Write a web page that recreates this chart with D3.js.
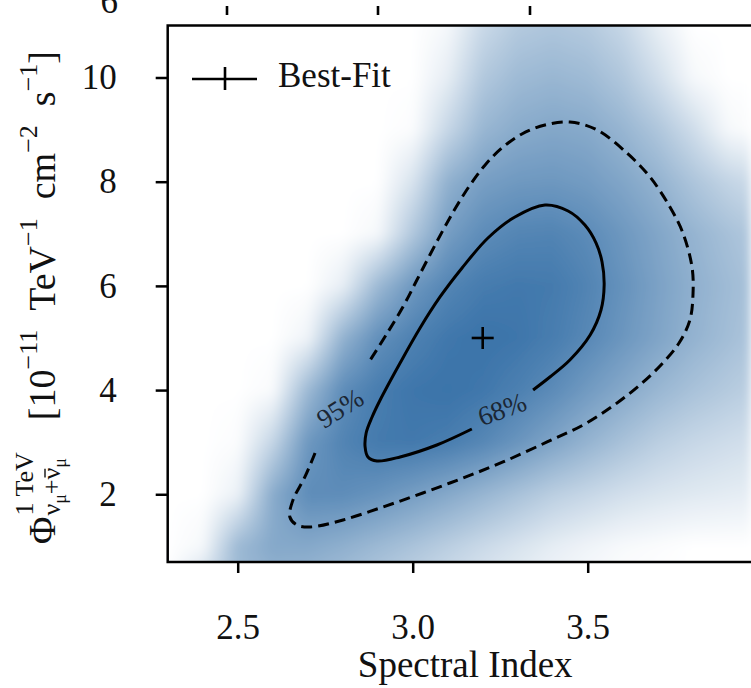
<!DOCTYPE html>
<html>
<head>
<meta charset="utf-8">
<script src="https://cdn.jsdelivr.net/npm/d3@7"></script>
<style>
  body { margin: 0; background: #fff; }
  svg { display: block; }
  text { font-family: "Liberation Serif", "Times New Roman", serif; fill: #111; }
</style>
</head>
<body>
<svg id="chart" width="751" height="688"></svg>
<script>
// ---- data ---------------------------------------------------------------
// Grid of the likelihood scan: spectral index (columns) x flux normalisation (rows)
const spectralIndex = [2.3, 2.4, 2.5, 2.6, 2.7, 2.8, 2.9, 3.0, 3.1, 3.2, 3.3, 3.4, 3.5, 3.6, 3.7, 3.8, 3.9, 4.0];
const fluxNorm = [11, 10, 9, 8, 7, 6, 5, 4, 3, 2, 1, 0];
// relative likelihood shading (1 = best fit, 0 = excluded), one row per fluxNorm value
const likelihoodShade = [
  [0, 0, 0, 0, 0, 0, 0, 0, 0.05, 0.27, 0.38, 0.41, 0.38, 0.29, 0.12, 0, 0, 0],
  [0, 0, 0, 0, 0, 0, 0, 0, 0.13, 0.39, 0.49, 0.52, 0.49, 0.40, 0.24, 0.05, 0, 0],
  [0, 0, 0, 0, 0, 0, 0, 0.02, 0.29, 0.52, 0.60, 0.63, 0.61, 0.53, 0.41, 0.25, 0.05, 0],
  [0, 0, 0, 0, 0, 0, 0, 0.20, 0.56, 0.69, 0.73, 0.74, 0.71, 0.64, 0.55, 0.42, 0.31, 0.23],
  [0, 0, 0, 0, 0, 0, 0.05, 0.40, 0.70, 0.82, 0.87, 0.88, 0.83, 0.74, 0.64, 0.54, 0.45, 0.37],
  [0, 0, 0, 0, 0, 0.12, 0.50, 0.74, 0.87, 0.94, 0.96, 0.95, 0.88, 0.78, 0.67, 0.57, 0.49, 0.41],
  [0, 0, 0, 0, 0.08, 0.55, 0.80, 0.90, 0.97, 1.00, 0.98, 0.93, 0.85, 0.75, 0.65, 0.55, 0.47, 0.39],
  [0, 0, 0, 0.03, 0.50, 0.82, 0.93, 0.98, 1.00, 0.97, 0.91, 0.83, 0.72, 0.62, 0.52, 0.44, 0.38, 0.32],
  [0, 0, 0.02, 0.30, 0.74, 0.88, 0.95, 0.96, 0.93, 0.86, 0.76, 0.65, 0.54, 0.44, 0.35, 0.29, 0.25, 0.21],
  [0, 0, 0.10, 0.60, 0.82, 0.82, 0.77, 0.70, 0.62, 0.53, 0.44, 0.35, 0.29, 0.23, 0.19, 0.16, 0.14, 0.12],
  [0, 0.05, 0.50, 0.62, 0.62, 0.57, 0.50, 0.43, 0.35, 0.27, 0.20, 0.13, 0.08, 0.04, 0.02, 0, 0, 0],
  [0, 0.35, 0.50, 0.50, 0.46, 0.40, 0.33, 0.26, 0.20, 0.14, 0.09, 0.05, 0.02, 0, 0, 0, 0, 0]
];

// confidence contours [spectral index, flux], open where the level label sits
const contour68 = [
  [3.169, 3.253], [3.069, 2.946], [2.964, 2.716], [2.898, 2.639], [2.872, 2.716], [2.864, 2.908],
  [2.867, 3.177], [2.884, 3.484], [2.907, 3.810], [2.964, 4.520], [3.021, 5.192], [3.078, 5.787],
  [3.141, 6.344], [3.215, 6.919], [3.292, 7.322], [3.378, 7.553], [3.444, 7.438], [3.492, 7.169],
  [3.524, 6.823], [3.541, 6.459], [3.547, 6.017], [3.538, 5.537], [3.507, 5.058], [3.449, 4.578],
  [3.392, 4.251], [3.344, 4.002]
];
const contour95 = [
  [2.721, 2.793], [2.692, 2.332], [2.658, 1.891], [2.649, 1.564], [2.669, 1.411], [2.707, 1.372],
  [2.801, 1.507], [2.915, 1.756], [3.029, 2.025], [3.144, 2.313], [3.258, 2.620], [3.384, 3.004],
  [3.487, 3.330], [3.572, 3.695], [3.649, 4.098], [3.712, 4.501], [3.761, 4.904], [3.792, 5.346],
  [3.801, 5.864], [3.798, 6.363], [3.772, 7.015], [3.735, 7.514], [3.678, 8.090], [3.615, 8.532],
  [3.527, 8.992], [3.449, 9.146], [3.378, 9.088], [3.312, 8.916], [3.255, 8.647], [3.207, 8.321],
  [3.164, 7.937], [3.124, 7.514], [3.087, 7.073], [3.049, 6.593], [3.012, 6.113], [2.975, 5.633],
  [2.924, 5.058], [2.875, 4.539]
];
const contourLabels = [
  { text: "68%", at: [3.255, 3.637], angle: -20 },
  { text: "95%", at: [2.792, 3.656], angle: -32 }
];
const bestFit = [3.2, 5.0];

const xTicks = [2.5, 3.0, 3.5];
const yTicks = [2, 4, 6, 8, 10];
const xTickLabels = ["2.5", "3.0", "3.5"];
const yTickLabels = ["2", "4", "6", "8", "10"];

// ---- layout -------------------------------------------------------------
const W = 751, H = 688;
const svg = d3.select("#chart");
const x = d3.scaleLinear().domain([2.3, 4.0]).range([167.7, 762.7]);
const y = d3.scaleLinear().domain([0.7, 11]).range([562, 25.4]);
const plotTop = y.range()[1], plotBottom = y.range()[0];
const plotLeft = x.range()[0], plotRight = x.range()[1];

const defs = svg.append("defs");
defs.append("clipPath").attr("id", "plotClip")
  .append("rect")
  .attr("x", plotLeft).attr("y", plotTop)
  .attr("width", plotRight - plotLeft).attr("height", plotBottom - plotTop);
defs.append("filter").attr("id", "soften")
  .attr("x", 0).attr("y", 0).attr("width", 1).attr("height", 1)
  .append("feGaussianBlur").attr("stdDeviation", 5);

// ---- likelihood shading (bilinear through the grid, lightly softened) ------
(function drawShading() {
  const order = d3.range(fluxNorm.length).sort((a, b) => fluxNorm[a] - fluxNorm[b]);
  const fSorted = order.map(i => fluxNorm[i]);
  const colScales = spectralIndex.map((_, j) =>
    d3.scaleLinear().domain(fSorted).range(order.map(i => likelihoodShade[i][j])).clamp(true));
  const color = d3.scaleLinear().domain([0, 1]).range(["#ffffff", "#3a73a9"]).clamp(true);
  const lut = d3.range(256).map(k => d3.rgb(color(k / 255)));

  const canvas = document.createElement("canvas");
  canvas.width = W; canvas.height = H;
  const ctx = canvas.getContext("2d");
  const img = ctx.createImageData(W, H);
  const xs = d3.range(W).map(px => x.invert(px + 0.5));
  for (let py = 0; py < H; py++) {
    const fv = y.invert(py + 0.5);
    const rowScale = d3.scaleLinear().domain(spectralIndex)
      .range(colScales.map(s => s(fv))).clamp(true);
    for (let px = 0; px < W; px++) {
      const s = Math.max(0, Math.min(1, rowScale(xs[px])));
      const c = lut[Math.round(s * 255)];
      const o = (py * W + px) * 4;
      img.data[o] = c.r; img.data[o + 1] = c.g; img.data[o + 2] = c.b; img.data[o + 3] = 255;
    }
  }
  ctx.putImageData(img, 0, 0);
  svg.append("g").attr("clip-path", "url(#plotClip)")
    .append("image")
    .attr("href", canvas.toDataURL())
    .attr("x", 0).attr("y", 0).attr("width", W).attr("height", H)
    .attr("filter", "url(#soften)");
})();

// ---- contours -------------------------------------------------------------
const line = d3.line()
  .x(d => x(d[0])).y(d => y(d[1]))
  .curve(d3.curveCatmullRom.alpha(0.5));
const contourLayer = svg.append("g").attr("clip-path", "url(#plotClip)");
contourLayer.append("path").datum(contour95)
  .attr("d", line).attr("fill", "none")
  .attr("stroke", "#000").attr("stroke-width", 3)
  .attr("stroke-dasharray", "11,6");
contourLayer.append("path").datum(contour68)
  .attr("d", line).attr("fill", "none")
  .attr("stroke", "#000").attr("stroke-width", 3);

contourLayer.selectAll("text.clabel").data(contourLabels).join("text")
  .attr("class", "clabel")
  .attr("transform", d => `translate(${x(d.at[0])},${y(d.at[1])}) rotate(${d.angle})`)
  .attr("text-anchor", "middle").attr("dy", "0.35em")
  .style("font-size", "27px").style("fill", "#1b2633")
  .text(d => d.text);

// best-fit marker
const bf = [x(bestFit[0]), y(bestFit[1])];
const cross = svg.append("g").attr("stroke", "#000").attr("stroke-width", 2.6);
cross.append("line").attr("x1", bf[0] - 11).attr("x2", bf[0] + 11).attr("y1", bf[1]).attr("y2", bf[1]);
cross.append("line").attr("x1", bf[0]).attr("x2", bf[0]).attr("y1", bf[1] - 11).attr("y2", bf[1] + 11);

// ---- axes -----------------------------------------------------------------
const xAxis = d3.axisBottom(x).tickValues(xTicks)
  .tickFormat((d, i) => xTickLabels[i]).tickSize(11).tickSizeOuter(0).tickPadding(41);
const yAxis = d3.axisLeft(y).tickValues(yTicks)
  .tickFormat((d, i) => yTickLabels[i]).tickSize(12).tickSizeOuter(0).tickPadding(39);

const gx = svg.append("g").attr("transform", `translate(0,${plotBottom})`).call(xAxis);
const gy = svg.append("g").attr("transform", `translate(${plotLeft},0)`).call(yAxis);
[gx, gy].forEach(g => {
  g.select(".domain").remove();
  g.selectAll(".tick line").attr("stroke", "#000").attr("stroke-width", 2.5);
  g.selectAll(".tick text").attr("fill", "#111")
    .style("font-family", '"Liberation Serif", "Times New Roman", serif')
    .style("font-size", "35px");
});

// frame (left, top, bottom spines)
svg.append("path")
  .attr("d", `M${W + 5},${plotTop}H${plotLeft}V${plotBottom}H${W + 5}`)
  .attr("stroke", "#000").attr("stroke-width", 2.5).attr("fill", "none");

// ticks and a tick label of the neighbouring panel above, cut by the page edge
const upper = svg.append("g").attr("stroke", "#000").attr("stroke-width", 2.6);
[227, 378, 530].forEach(px => upper.append("line").attr("x1", px).attr("x2", px).attr("y1", 6).attr("y2", 15));
svg.append("text").attr("x", 118).attr("y", 13).attr("text-anchor", "end")
  .style("font-size", "35px").text("6");

// x title
svg.append("text").attr("x", (plotLeft + plotRight) / 2).attr("y", 677)
  .attr("text-anchor", "middle").style("font-size", "37px").text("Spectral Index");

// y title: runs laid out along the rotated baseline, then centred on the axis
(function yTitle() {
  const outer = svg.append("g").attr("transform", "rotate(-90)");
  const g = outer.append("g");
  const MAIN = 38, SUP = 26, SUB = 26, SUBSUB = 18;
  const BASE = 55, SUPB = 37, PHISUPB = 33, SUBB = 60, SUBSUBB = 66;
  function put(t, size, base, at) {
    const el = g.append("text").attr("x", at).attr("y", base).style("font-size", size + "px").text(t);
    return el.node().getComputedTextLength();
  }
  function seq(list, start) {
    let c = start;
    list.forEach(r => {
      const w = put(r[0], r[1], r[2], c);
      if (r[3]) {
        g.append("line").attr("x1", c + 2).attr("x2", c + w - 1)
          .attr("y1", r[2] - r[1] * 0.5 - 2).attr("y2", r[2] - r[1] * 0.5 - 2)
          .attr("stroke", "#111").attr("stroke-width", 1.4);
      }
      c += w;
    });
    return c;
  }
  let c = seq([["Φ", MAIN, BASE]], 0);
  const supEnd = seq([["1 TeV", SUP, PHISUPB]], c + 1);
  const subEnd = seq([["ν", SUB, SUBB], ["μ", SUBSUB, SUBSUBB], ["+", SUB, SUBB],
                      ["ν", SUB, SUBB, true], ["μ", SUBSUB, SUBSUBB]], c + 1);
  c = Math.max(supEnd, subEnd) + 32;
  c = seq([["[10", MAIN, BASE], ["\u221211", SUP, SUPB]], c) + 19;
  c = seq([["TeV", MAIN, BASE], ["\u22121", SUP, SUPB]], c) + 19;
  c = seq([["cm", MAIN, BASE], ["\u22122", SUP, SUPB]], c) + 19;
  c = seq([["s", MAIN, BASE], ["\u22121", SUP, SUPB], ["]", MAIN, BASE]], c);
  const centre = (plotTop + plotBottom) / 2 + 4;
  g.attr("transform", `translate(${-(centre + c / 2)},0)`);
})();

// legend
const legend = svg.append("g");
legend.append("line").attr("x1", 192).attr("x2", 257).attr("y1", 79).attr("y2", 79)
  .attr("stroke", "#000").attr("stroke-width", 2.6);
legend.append("line").attr("x1", 225).attr("x2", 225).attr("y1", 67).attr("y2", 90)
  .attr("stroke", "#000").attr("stroke-width", 2.6);
legend.append("text").attr("x", 278).attr("y", 87).style("font-size", "35px").text("Best-Fit");
</script>
</body>
</html>
